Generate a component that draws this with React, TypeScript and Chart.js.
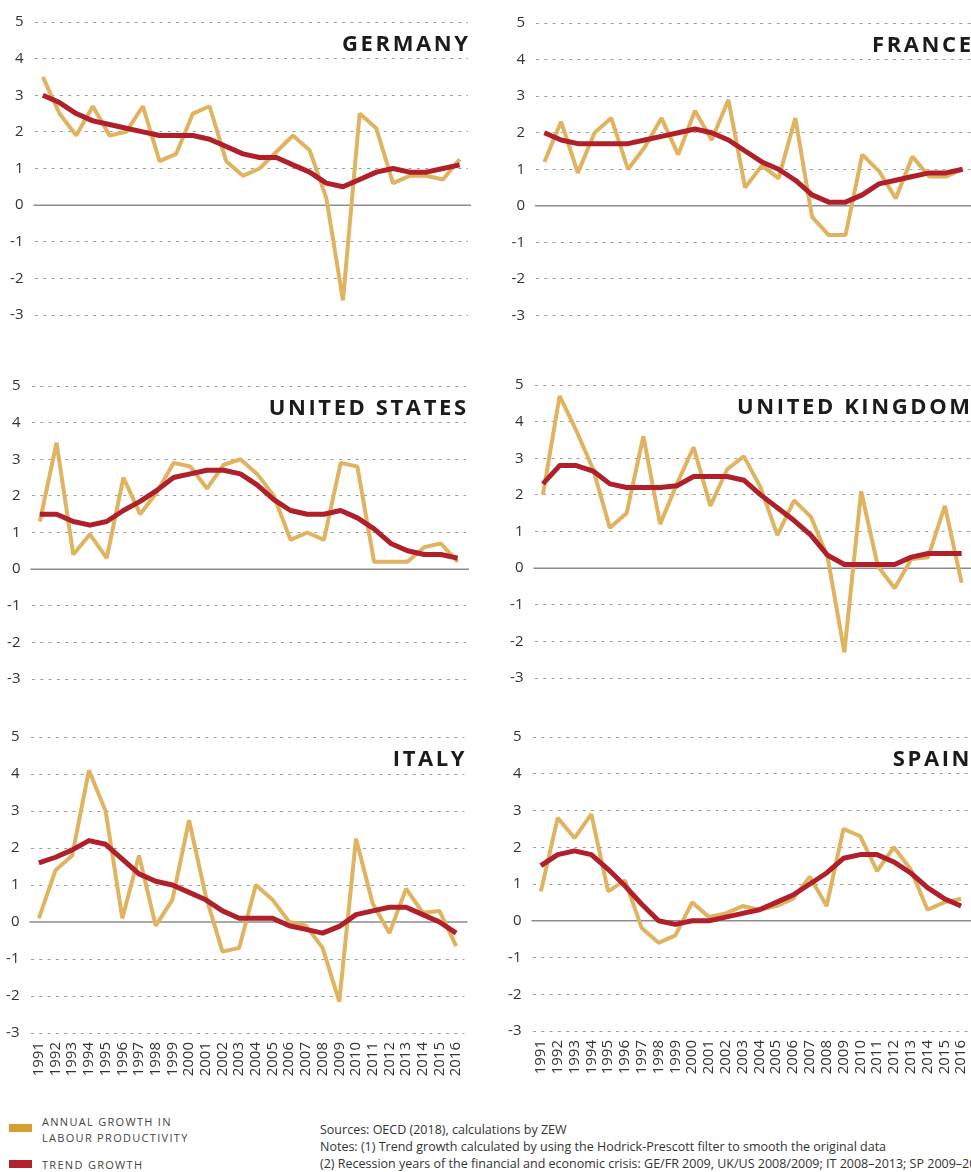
import React, { useEffect, useRef } from "react";
import { Chart, registerables } from "chart.js";

Chart.register(...registerables);

const years = [
  "1991", "1992", "1993", "1994", "1995", "1996", "1997", "1998", "1999", "2000",
  "2001", "2002", "2003", "2004", "2005", "2006", "2007", "2008", "2009", "2010",
  "2011", "2012", "2013", "2014", "2015", "2016",
];

const yTickValues = [-3, -2, -1, 0, 1, 2, 3, 4, 5];

const germanyAnnual = [3.5, 2.5, 1.9, 2.7, 1.9, 2.0, 2.7, 1.2, 1.4, 2.5, 2.7, 1.2, 0.8, 1.0, 1.45, 1.9, 1.5, 0.2, -2.6, 2.5, 2.1, 0.6, 0.8, 0.8, 0.7, 1.25];
const germanyTrend = [3.0, 2.8, 2.5, 2.3, 2.2, 2.1, 2.0, 1.9, 1.9, 1.9, 1.8, 1.6, 1.4, 1.3, 1.3, 1.1, 0.9, 0.6, 0.5, 0.7, 0.9, 1.0, 0.9, 0.9, 1.0, 1.1];

const franceAnnual = [1.2, 2.3, 0.9, 2.0, 2.4, 1.0, 1.6, 2.4, 1.4, 2.6, 1.8, 2.9, 0.5, 1.1, 0.75, 2.4, -0.3, -0.8, -0.8, 1.4, 0.95, 0.2, 1.35, 0.8, 0.8, 1.0];
const franceTrend = [2.0, 1.8, 1.7, 1.7, 1.7, 1.7, 1.8, 1.9, 2.0, 2.1, 2.0, 1.8, 1.5, 1.2, 1.0, 0.7, 0.3, 0.1, 0.1, 0.3, 0.6, 0.7, 0.8, 0.9, 0.9, 1.0];

const usAnnual = [1.3, 3.45, 0.4, 0.95, 0.3, 2.5, 1.5, 2.1, 2.9, 2.8, 2.2, 2.85, 3.0, 2.6, 2.0, 0.8, 1.0, 0.8, 2.9, 2.8, 0.2, 0.2, 0.2, 0.6, 0.7, 0.2];
const usTrend = [1.5, 1.5, 1.3, 1.2, 1.3, 1.6, 1.85, 2.15, 2.5, 2.6, 2.7, 2.7, 2.6, 2.3, 1.9, 1.6, 1.5, 1.5, 1.6, 1.4, 1.1, 0.7, 0.5, 0.4, 0.4, 0.3];

const ukAnnual = [2.0, 4.7, 3.75, 2.7, 1.1, 1.5, 3.6, 1.2, 2.3, 3.3, 1.7, 2.7, 3.05, 2.2, 0.9, 1.85, 1.4, 0.3, -2.3, 2.1, 0.05, -0.55, 0.25, 0.3, 1.7, -0.4];
const ukTrend = [2.3, 2.8, 2.8, 2.65, 2.3, 2.2, 2.2, 2.2, 2.25, 2.5, 2.5, 2.5, 2.4, 2.0, 1.65, 1.3, 0.9, 0.35, 0.1, 0.1, 0.1, 0.1, 0.3, 0.4, 0.4, 0.4];

const italyAnnual = [0.1, 1.4, 1.8, 4.1, 3.0, 0.1, 1.8, -0.1, 0.6, 2.75, 0.7, -0.8, -0.7, 1.0, 0.6, 0.0, -0.1, -0.7, -2.15, 2.25, 0.5, -0.3, 0.9, 0.25, 0.3, -0.65];
const italyTrend = [1.6, 1.75, 1.95, 2.2, 2.1, 1.7, 1.3, 1.1, 1.0, 0.8, 0.6, 0.3, 0.1, 0.1, 0.1, -0.1, -0.2, -0.3, -0.12, 0.2, 0.3, 0.4, 0.4, 0.2, 0.0, -0.3];

const spainAnnual = [0.8, 2.8, 2.25, 2.9, 0.8, 1.1, -0.2, -0.6, -0.4, 0.5, 0.1, 0.2, 0.4, 0.3, 0.4, 0.6, 1.2, 0.4, 2.5, 2.3, 1.35, 2.0, 1.4, 0.3, 0.5, 0.6];
const spainTrend = [1.5, 1.8, 1.9, 1.8, 1.4, 0.95, 0.45, 0.0, -0.1, 0.0, 0.0, 0.1, 0.2, 0.3, 0.5, 0.7, 1.0, 1.3, 1.7, 1.8, 1.8, 1.6, 1.3, 0.9, 0.6, 0.4];

const YELLOW = "#dfb35f";
const RED = "#b0202a";
const LEGEND_YELLOW = "#d39e32";
const LEGEND_RED = "#b3232b";
const TEXT = "#333333";

type Area = { left: number; right: number; top: number; bottom: number };

const zeroLinePlugin = {
  id: "zeroLine",
  beforeDatasetsDraw(chart: any) {
    const { ctx, chartArea, scales } = chart;
    const y = scales.y.getPixelForValue(0);
    ctx.save();
    ctx.strokeStyle = "#8c8c8c";
    ctx.lineWidth = 1.5;
    ctx.beginPath();
    ctx.moveTo(chartArea.left - 1, y);
    ctx.lineTo(chartArea.right + 3, y);
    ctx.stroke();
    ctx.restore();
  },
};

function Panel(props: {
  title: string;
  annual: number[];
  trend: number[];
  canvasLeft: number;
  canvasWidth: number;
  area: Area;
  showX: boolean;
}) {
  const ref = useRef<HTMLCanvasElement | null>(null);
  const { title, annual, trend, canvasLeft, canvasWidth, area, showX } = props;
  const canvasTop = area.top - 22;
  const xAxisH = showX ? 52 : 12;
  const canvasHeight = area.bottom - canvasTop + xAxisH;

  useEffect(() => {
    if (!ref.current) return;
    const fix = {
      xh: xAxisH,
      yw: area.left - canvasLeft,
      top: area.top - canvasTop,
      right: canvasWidth - (area.right - canvasLeft),
    };
    const chart = new Chart(ref.current, {
      type: "line",
      data: {
        labels: years,
        datasets: [
          {
            label: "Trend growth",
            data: trend,
            borderColor: RED,
            borderWidth: 5,
            pointRadius: 0,
            tension: 0,
            borderJoinStyle: "round",
            borderCapStyle: "butt",
            order: 0,
            clip: false as any,
          },
          {
            label: "Annual growth in labour productivity",
            data: annual,
            borderColor: YELLOW,
            borderWidth: 4,
            pointRadius: 0,
            tension: 0,
            borderJoinStyle: "bevel",
            borderCapStyle: "butt",
            order: 1,
            clip: false as any,
          },
        ],
      },
      options: {
        animation: false,
        responsive: false,
        maintainAspectRatio: false,
        events: [],
        layout: {
          autoPadding: false,
          padding: { left: 0, right: fix.right, top: fix.top, bottom: 0 },
        },
        plugins: {
          legend: { display: false },
          tooltip: { enabled: false },
          title: { display: false },
        },
        scales: {
          x: {
            type: "category",
            offset: true,
            grid: { display: false, drawTicks: false },
            border: { display: false },
            ticks: {
              display: showX,
              autoSkip: false,
              minRotation: 90,
              maxRotation: 90,
              padding: 9,
              color: TEXT,
              font: { family: "'Open Sans', sans-serif", size: 15 },
            },
            afterFit: (s: any) => {
              s.height = fix.xh;
              s.paddingLeft = 0;
              s.paddingRight = 0;
            },
          },
          y: {
            min: -3,
            max: 5,
            afterBuildTicks: (s: any) => {
              s.ticks = yTickValues.map((v) => ({ value: v }));
            },
            ticks: {
              padding: 11,
              color: TEXT,
              font: { family: "'Open Sans', sans-serif", size: 15 },
              callback: (v: any) => String(v),
            },
            grid: {
              drawTicks: false,
              lineWidth: 1,
              color: (c: any) => (c.tick && c.tick.value === 0 ? "rgba(0,0,0,0)" : "#9d9d9d"),
            },
            border: { display: false, dash: [3, 5.3] },
            afterFit: (s: any) => {
              s.width = fix.yw;
              s.paddingTop = 0;
              s.paddingBottom = 0;
            },
          },
        },
      },
      plugins: [zeroLinePlugin],
    } as any);

    const wantTop = area.top - canvasTop;
    const wantBottom = area.bottom - canvasTop;
    const wantLeft = area.left - canvasLeft;
    const wantRight = area.right - canvasLeft;
    for (let i = 0; i < 3; i++) {
      const ca = chart.chartArea;
      const dT = wantTop - ca.top;
      const dB = wantBottom - ca.bottom;
      const dL = wantLeft - ca.left;
      const dR = wantRight - ca.right;
      if (Math.abs(dT) < 0.2 && Math.abs(dB) < 0.2 && Math.abs(dL) < 0.2 && Math.abs(dR) < 0.2) break;
      fix.top += dT;
      fix.xh = Math.max(0, fix.xh - (dB - dT));
      fix.yw += dL;
      fix.right -= dR;
      (chart.options as any).layout.padding = { left: 0, right: fix.right, top: fix.top, bottom: 0 };
      chart.update();
    }
    return () => chart.destroy();
  }, []);

  return (
    <>
      <canvas
        ref={ref}
        width={canvasWidth}
        height={canvasHeight}
        style={{
          position: "absolute",
          left: canvasLeft,
          top: canvasTop,
          width: canvasWidth,
          height: canvasHeight,
        }}
      />
      <div
        style={{
          position: "absolute",
          right: 971 - area.right - 2.6,
          top: area.top + 9,
          fontFamily: "'Open Sans', sans-serif",
          fontWeight: 700,
          fontSize: 22,
          lineHeight: "22px",
          letterSpacing: 2.6,
          color: "#1b1b1b",
          whiteSpace: "nowrap",
        }}
      >
        {title}
      </div>
    </>
  );
}

export default function App() {
  const legendText: React.CSSProperties = {
    position: "absolute",
    left: 42,
    fontFamily: "'Open Sans', sans-serif",
    fontSize: 11,
    letterSpacing: 1.3,
    color: "#444",
    lineHeight: "16px",
    whiteSpace: "nowrap",
  };
  const noteText: React.CSSProperties = {
    position: "absolute",
    left: 320,
    fontFamily: "'Open Sans', sans-serif",
    fontSize: 12.5,
    color: "#333",
    lineHeight: "17px",
    whiteSpace: "nowrap",
  };
  return (
    <div
      style={{
        position: "absolute",
        left: 0,
        top: 0,
        width: 971,
        height: 1172,
        overflow: "hidden",
        background: "#fff",
      }}
    >
      <Panel title="GERMANY" annual={germanyAnnual} trend={germanyTrend} canvasLeft={0} canvasWidth={485}
        area={{ left: 34.5, right: 468, top: 22, bottom: 315 }} showX={false} />
      <Panel title="FRANCE" annual={franceAnnual} trend={franceTrend} canvasLeft={486} canvasWidth={485}
        area={{ left: 536, right: 971, top: 22.5, bottom: 315 }} showX={false} />
      <Panel title="UNITED STATES" annual={usAnnual} trend={usTrend} canvasLeft={0} canvasWidth={485}
        area={{ left: 31.5, right: 466, top: 386, bottom: 679 }} showX={false} />
      <Panel title="UNITED KINGDOM" annual={ukAnnual} trend={ukTrend} canvasLeft={486} canvasWidth={485}
        area={{ left: 534.5, right: 970, top: 385, bottom: 678 }} showX={false} />
      <Panel title="ITALY" annual={italyAnnual} trend={italyTrend} canvasLeft={0} canvasWidth={485}
        area={{ left: 30.5, right: 464.5, top: 737, bottom: 1033 }} showX={true} />
      <Panel title="SPAIN" annual={spainAnnual} trend={spainTrend} canvasLeft={486} canvasWidth={485}
        area={{ left: 532.5, right: 969.5, top: 737, bottom: 1031 }} showX={true} />

      <div style={{ position: "absolute", left: 9, top: 1124, width: 23, height: 8, background: LEGEND_YELLOW }} />
      <div style={{ ...legendText, top: 1114 }}>ANNUAL GROWTH IN</div>
      <div style={{ ...legendText, top: 1130 }}>LABOUR PRODUCTIVITY</div>
      <div style={{ position: "absolute", left: 9, top: 1160, width: 23, height: 8, background: LEGEND_RED }} />
      <div style={{ ...legendText, top: 1157 }}>TREND GROWTH</div>

      <div style={{ ...noteText, top: 1121 }}>Sources: OECD (2018), calculations by ZEW</div>
      <div style={{ ...noteText, top: 1138 }}>
        Notes: (1) Trend growth calculated by using the Hodrick-Prescott filter to smooth the original data
      </div>
      <div style={{ ...noteText, top: 1155 }}>
        (2) Recession years of the financial and economic crisis: GE/FR 2009, UK/US 2008/2009; IT 2008–2013; SP 2009–2013
      </div>
    </div>
  );
}
